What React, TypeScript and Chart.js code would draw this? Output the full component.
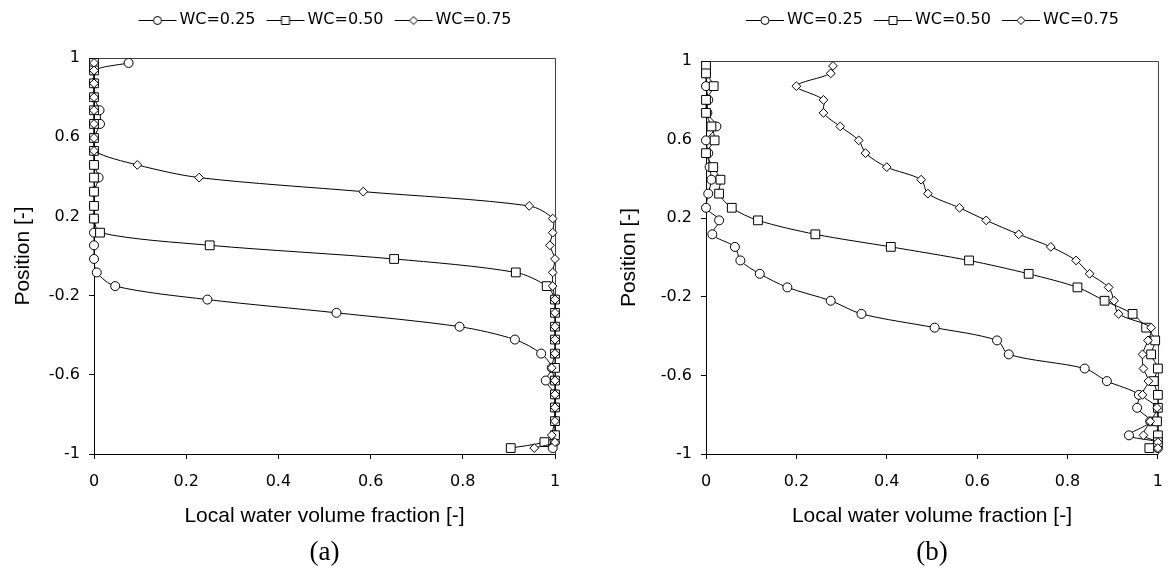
import React, { useEffect, useRef } from 'react';
import { Chart, registerables } from 'chart.js';

Chart.register(...registerables);

// ---- data -------------------------------------------------------------
const positions = [
  0.975, 0.937, 0.872, 0.802, 0.736, 0.667, 0.596, 0.531, 0.46, 0.396, 0.325,
  0.253, 0.189, 0.118, 0.054, -0.015, -0.083, -0.152, -0.22, -0.287, -0.357,
  -0.422, -0.493, -0.565, -0.629, -0.699, -0.765, -0.834, -0.905, -0.94, -0.97,
];

// panel (a)
const aWc025 = [
  0.075, 0, 0, 0, 0.012, 0.013, 0, 0, 0, 0.01, 0, 0, 0, 0, 0, 0, 0.006, 0.046,
  0.246, 0.526, 0.793, 0.913, 0.97, 0.993, 0.98, 1, 1, 1, 1, 1, 0.995,
];
const aWc050 = [
  0, 0, 0, 0, 0, 0, 0, 0, 0, 0, 0, 0, 0, 0.013, 0.251, 0.651, 0.915, 0.982, 1,
  1, 1, 1, 1, 1, 1, 1, 1, 1, 1, 0.977, 0.904,
];
const aWc075 = [
  0, 0, 0, 0, 0, 0, 0, 0, 0.094, 0.228, 0.584, 0.944, 0.995, 0.995, 0.989, 1,
  0.995, 0.995, 1, 1, 1, 1, 1, 0.993, 1, 1, 1, 1, 0.993, 1, 0.955,
];

// panel (b)
const bWc025 = [
  0, 0, 0, 0.005, 0.003, 0.023, 0, 0.005, 0.008, 0.012, 0.005, 0, 0.029, 0.014,
  0.064, 0.076, 0.119, 0.18, 0.276, 0.344, 0.506, 0.644, 0.67, 0.838, 0.887,
  0.958, 0.954, 0.983, 0.936, 1, 1,
];
const bWc050 = [
  0, 0, 0.017, 0, 0, 0.012, 0.019, 0, 0.016, 0.032, 0.029, 0.057, 0.115, 0.242,
  0.409, 0.582, 0.714, 0.822, 0.882, 0.944, 0.974, 0.994, 0.985, 1, 0.991, 1,
  1, 0.998, 1, 1, 0.981,
];
const bWc075 = [
  0.281, 0.276, 0.2, 0.26, 0.26, 0.297, 0.338, 0.353, 0.4, 0.476, 0.491, 0.561,
  0.62, 0.692, 0.763, 0.819, 0.849, 0.891, 0.903, 0.913, 0.985, 0.978, 0.966,
  0.968, 0.979, 0.966, 0.998, 0.983, 0.968, 1, 1,
];

const seriesLabels = ['WC=0.25', 'WC=0.50', 'WC=0.75'];
const xTickLabels = ['0', '0.2', '0.4', '0.6', '0.8', '1'];
const yTickLabels = ['-1', '-0.6', '-0.2', '0.2', '0.6', '1'];
const xTitle = 'Local water volume fraction [-]';
const yTitle = 'Position [-]';
const captions = ['(a)', '(b)'];

// ---- styling ----------------------------------------------------------
const SANS = "'DejaVu Sans', sans-serif";
const ARIAL = "'Liberation Sans', Arial, sans-serif";
const SERIF = "'Liberation Serif', 'Times New Roman', serif";

const markers = [
  { style: 'circle', radius: 4.5 },
  { style: 'rect', radius: 6.2 },
  { style: 'rectRot', radius: 4.4 },
];

function legendImage(i: number): HTMLCanvasElement {
  const c = document.createElement('canvas');
  c.width = 46;
  c.height = 14;
  const ctx = c.getContext('2d')!;
  ctx.strokeStyle = '#000';
  ctx.lineWidth = 1;
  ctx.beginPath();
  ctx.moveTo(7, 7.5);
  ctx.lineTo(45, 7.5);
  ctx.stroke();
  const cx = 26;
  const cy = 7.5;
  ctx.fillStyle = '#fff';
  ctx.beginPath();
  if (i === 0) {
    ctx.arc(cx, cy, 4, 0, Math.PI * 2);
  } else if (i === 1) {
    ctx.rect(cx - 4, cy - 4, 8, 8);
  } else {
    const r = 4;
    ctx.moveTo(cx, cy - r);
    ctx.lineTo(cx + r, cy);
    ctx.lineTo(cx, cy + r);
    ctx.lineTo(cx - r, cy);
    ctx.closePath();
  }
  ctx.fill();
  ctx.stroke();
  return c;
}

type Layout = {
  padLeft: number;
  padRight: number;
  axisWidth: number;
  chartTop: number;
};

function buildChart(
  canvas: HTMLCanvasElement,
  series: number[][],
  caption: string,
  lay: Layout
) {
  const images = seriesLabels.map((_, i) => legendImage(i));
  const padTop = 2;

  const legendSpacer = {
    id: 'legendSpacer',
    beforeInit(chart: any) {
      const legend = chart.legend;
      const orig = legend.fit;
      legend.fit = function () {
        orig.call(this);
        this.height = lay.chartTop - padTop;
      };
    },
  };

  const frame = {
    id: 'frame',
    beforeDatasetsDraw(chart: any) {
      const { ctx, chartArea } = chart;
      const l = Math.round(chartArea.left) + 0.5;
      const t = Math.round(chartArea.top) + 0.5;
      const r = Math.round(chartArea.right) + 0.5;
      const b = Math.round(chartArea.bottom) + 0.5;
      ctx.save();
      ctx.strokeStyle = '#404040';
      ctx.lineWidth = 1;
      ctx.beginPath();
      ctx.moveTo(l, t);
      ctx.lineTo(r, t);
      ctx.lineTo(r, b);
      ctx.stroke();
      ctx.restore();
    },
  };

  const datasets = seriesLabels.map((label, i) => ({
    label,
    data: positions.map((y, k) => ({ x: series[i][k], y })),
    showLine: true,
    borderColor: '#000',
    borderWidth: 1,
    tension: 0.3,
    fill: false,
    clip: false,
    order: 3 - i,
    pointStyle: markers[i].style,
    pointRadius: markers[i].radius,
    pointBackgroundColor: '#fff',
    pointBorderColor: '#000',
    pointBorderWidth: 1,
  }));

  return new Chart(canvas, {
    type: 'scatter',
    data: { datasets } as any,
    options: {
      responsive: false,
      animation: false,
      devicePixelRatio: 1,
      events: [],
      layout: {
        padding: { left: lay.padLeft, right: lay.padRight, top: padTop, bottom: 0 },
      },
      scales: {
        x: {
          type: 'linear',
          position: 'bottom',
          min: 0,
          max: 1,
          ticks: {
            stepSize: 0.2,
            autoSkip: false,
            maxRotation: 0,
            padding: 13,
            color: '#000',
            font: { family: SANS, size: 16 },
            callback: (_v: any, idx: number) => xTickLabels[idx],
          },
          grid: {
            display: true,
            drawOnChartArea: false,
            drawTicks: true,
            tickLength: 5,
            color: '#000',
            lineWidth: 1,
          },
          border: { display: true, color: '#000', width: 1 },
          title: {
            display: true,
            text: xTitle,
            color: '#000',
            font: { family: ARIAL, size: 21 },
            padding: { top: 0, bottom: 9.7 },
          },
          afterFit: (s: any) => {
            s.height = 85;
          },
        },
        y: {
          type: 'linear',
          position: 'left',
          min: -1,
          max: 1,
          ticks: {
            stepSize: 0.4,
            autoSkip: false,
            padding: 9,
            color: '#000',
            font: { family: SANS, size: 16 },
            callback: (_v: any, idx: number) => yTickLabels[idx],
          },
          grid: {
            display: true,
            drawOnChartArea: false,
            drawTicks: true,
            tickLength: 5,
            color: '#000',
            lineWidth: 1,
          },
          border: { display: true, color: '#000', width: 1 },
          title: {
            display: true,
            text: yTitle,
            color: '#000',
            font: { family: ARIAL, size: 21 },
            padding: { top: 10.4, bottom: 0 },
          },
          afterFit: (s: any) => {
            s.width = lay.axisWidth;
          },
        },
      },
      plugins: {
        legend: {
          display: true,
          position: 'top',
          fullSize: false,
          align: 'center',
          labels: {
            usePointStyle: true,
            pointStyleWidth: 34,
            padding: 10,
            color: '#000',
            font: { family: SANS, size: 16 },
            generateLabels: () =>
              seriesLabels.map((text, i) => ({
                text,
                pointStyle: images[i],
                fillStyle: '#fff',
                strokeStyle: '#000',
                fontColor: '#000',
                lineWidth: 0,
                hidden: false,
                datasetIndex: i,
              })),
          },
        },
        title: {
          display: true,
          position: 'bottom',
          fullSize: false,
          text: caption,
          color: '#000',
          font: { family: SERIF, size: 27, lineHeight: 1, weight: 'normal' },
          padding: { top: 0, bottom: 1 },
        },
        tooltip: { enabled: false },
      },
    } as any,
    plugins: [legendSpacer, frame],
  });
}

export default function App() {
  const refA = useRef<HTMLCanvasElement | null>(null);
  const refB = useRef<HTMLCanvasElement | null>(null);

  useEffect(() => {
    const charts: Chart[] = [];
    if (refA.current) {
      charts.push(
        buildChart(refA.current, [aWc025, aWc050, aWc075], captions[0], {
          padLeft: 0,
          padRight: 35,
          axisWidth: 94,
          chartTop: 58,
        })
      );
    }
    if (refB.current) {
      charts.push(
        buildChart(refB.current, [bWc025, bWc050, bWc075], captions[1], {
          padLeft: 16,
          padRight: 8,
          axisWidth: 100,
          chartTop: 61,
        })
      );
    }
    return () => charts.forEach((c) => c.destroy());
  }, []);

  return (
    <div
      style={{
        position: 'absolute',
        left: 0,
        top: 0,
        width: 1176,
        height: 567,
        background: '#fff',
        overflow: 'hidden',
      }}
    >
      <canvas
        ref={refA}
        width={590}
        height={567}
        style={{ position: 'absolute', left: 0, top: 0, width: 590, height: 567 }}
      />
      <canvas
        ref={refB}
        width={586}
        height={567}
        style={{ position: 'absolute', left: 590, top: 0, width: 586, height: 567 }}
      />
    </div>
  );
}
